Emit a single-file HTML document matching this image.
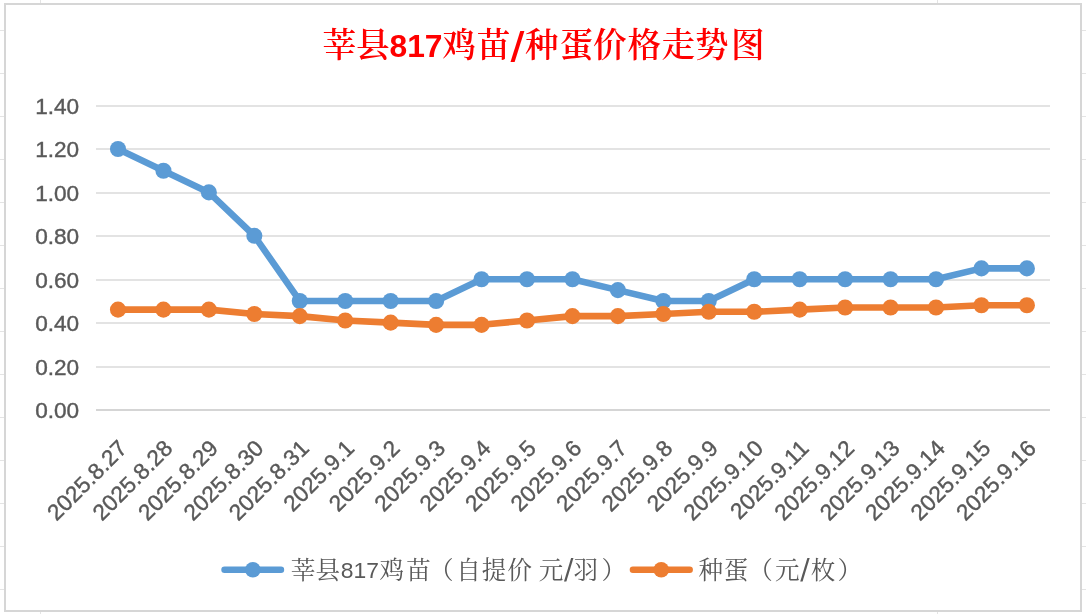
<!DOCTYPE html>
<html lang="zh-CN">
<head>
<meta charset="utf-8">
<title>莘县817鸡苗/种蛋价格走势图</title>
<style>
html,body{margin:0;padding:0;background:#fff;}
body{width:1086px;height:614px;overflow:hidden;position:relative;}
svg{position:absolute;left:0;top:0;display:block;}
.num{font-family:"Liberation Sans",sans-serif;font-size:22.6px;fill:#595959;stroke:#595959;stroke-width:0.4px;}
.ttl{font-family:"Liberation Serif","Noto Serif CJK SC",serif;font-weight:600;font-size:33.6px;fill:#ff0000;}
.ttl .d{font-family:"Liberation Sans",sans-serif;font-weight:bold;font-size:31.8px;}
.ttl .s{font-family:"DejaVu Sans",sans-serif;font-weight:bold;font-size:38px;}
.leg{font-family:"Liberation Serif","Noto Serif CJK SC",serif;font-size:24.6px;fill:#595959;}
.leg .d{font-family:"Liberation Sans",sans-serif;font-size:22.9px;}
.leg .s{font-family:"DejaVu Sans",sans-serif;font-size:28px;}
</style>
</head>
<body>
<svg width="1086" height="614" viewBox="0 0 1086 614">
<rect x="0" y="0" width="1086" height="614" fill="#ffffff"/>

<g fill="#e4e4e4" shape-rendering="crispEdges">
<rect x="0" y="30" width="1086" height="1"/>
<rect x="0" y="73" width="1086" height="1"/>
<rect x="0" y="116" width="1086" height="1"/>
<rect x="0" y="159" width="1086" height="1"/>
<rect x="0" y="202" width="1086" height="1"/>
<rect x="0" y="245" width="1086" height="1"/>
<rect x="0" y="288" width="1086" height="1"/>
<rect x="0" y="331" width="1086" height="1"/>
<rect x="0" y="374" width="1086" height="1"/>
<rect x="0" y="417" width="1086" height="1"/>
<rect x="0" y="460" width="1086" height="1"/>
<rect x="0" y="503" width="1086" height="1"/>
<rect x="0" y="546" width="1086" height="1"/>
<rect x="0" y="589" width="1086" height="1"/>
<rect x="40" y="0" width="1" height="614"/>
<rect x="937" y="0" width="1" height="614"/>
</g>
<rect x="5" y="4" width="1076" height="607" fill="#ffffff" stroke="#d6d6d6" stroke-width="2" shape-rendering="crispEdges"/>
<g fill="#e3e3e3" shape-rendering="crispEdges">
<rect x="96" y="366" width="954" height="2"/>
<rect x="96" y="322" width="954" height="2"/>
<rect x="96" y="279" width="954" height="2"/>
<rect x="96" y="235" width="954" height="2"/>
<rect x="96" y="192" width="954" height="2"/>
<rect x="96" y="148" width="954" height="2"/>
<rect x="96" y="105" width="954" height="2"/>
<rect x="96" y="409" width="954" height="2" fill="#d5d5d5"/>
</g>
<g class="num" text-anchor="end">
<text x="79.2" y="418.00">0.00</text>
<text x="79.2" y="375.00">0.20</text>
<text x="79.2" y="331.00">0.40</text>
<text x="79.2" y="288.00">0.60</text>
<text x="79.2" y="244.00">0.80</text>
<text x="79.2" y="201.00">1.00</text>
<text x="79.2" y="157.00">1.20</text>
<text x="79.2" y="114.00">1.40</text>
</g>
<g class="num" text-anchor="end" style="letter-spacing:0.15px">
<text transform="translate(128.60,449.60) rotate(-45)" x="0" y="0">2025.8.27</text>
<text transform="translate(174.04,449.60) rotate(-45)" x="0" y="0">2025.8.28</text>
<text transform="translate(219.49,449.60) rotate(-45)" x="0" y="0">2025.8.29</text>
<text transform="translate(264.94,449.60) rotate(-45)" x="0" y="0">2025.8.30</text>
<text transform="translate(310.38,449.60) rotate(-45)" x="0" y="0">2025.8.31</text>
<text transform="translate(355.83,449.60) rotate(-45)" x="0" y="0">2025.9.1</text>
<text transform="translate(401.27,449.60) rotate(-45)" x="0" y="0">2025.9.2</text>
<text transform="translate(446.72,449.60) rotate(-45)" x="0" y="0">2025.9.3</text>
<text transform="translate(492.16,449.60) rotate(-45)" x="0" y="0">2025.9.4</text>
<text transform="translate(537.61,449.60) rotate(-45)" x="0" y="0">2025.9.5</text>
<text transform="translate(583.05,449.60) rotate(-45)" x="0" y="0">2025.9.6</text>
<text transform="translate(628.50,449.60) rotate(-45)" x="0" y="0">2025.9.7</text>
<text transform="translate(673.94,449.60) rotate(-45)" x="0" y="0">2025.9.8</text>
<text transform="translate(719.38,449.60) rotate(-45)" x="0" y="0">2025.9.9</text>
<text transform="translate(764.83,449.60) rotate(-45)" x="0" y="0">2025.9.10</text>
<text transform="translate(810.27,449.60) rotate(-45)" x="0" y="0">2025.9.11</text>
<text transform="translate(855.72,449.60) rotate(-45)" x="0" y="0">2025.9.12</text>
<text transform="translate(901.17,449.60) rotate(-45)" x="0" y="0">2025.9.13</text>
<text transform="translate(946.61,449.60) rotate(-45)" x="0" y="0">2025.9.14</text>
<text transform="translate(992.06,449.60) rotate(-45)" x="0" y="0">2025.9.15</text>
<text transform="translate(1037.50,449.60) rotate(-45)" x="0" y="0">2025.9.16</text>
</g>
<polyline points="118.00,148.98 163.44,170.69 208.89,192.40 254.34,235.82 299.78,300.95 345.23,300.95 390.67,300.95 436.12,300.95 481.56,279.24 527.00,279.24 572.45,279.24 617.89,290.10 663.34,300.95 708.78,300.95 754.23,279.24 799.67,279.24 845.12,279.24 890.57,279.24 936.01,279.24 981.46,268.38 1026.90,268.38" fill="none" stroke="#5b9bd5" stroke-width="6.6" stroke-linejoin="round" stroke-linecap="round"/>
<g fill="#5b9bd5">
<circle cx="118.00" cy="148.98" r="8.05"/>
<circle cx="163.44" cy="170.69" r="8.05"/>
<circle cx="208.89" cy="192.40" r="8.05"/>
<circle cx="254.34" cy="235.82" r="8.05"/>
<circle cx="299.78" cy="300.95" r="8.05"/>
<circle cx="345.23" cy="300.95" r="8.05"/>
<circle cx="390.67" cy="300.95" r="8.05"/>
<circle cx="436.12" cy="300.95" r="8.05"/>
<circle cx="481.56" cy="279.24" r="8.05"/>
<circle cx="527.00" cy="279.24" r="8.05"/>
<circle cx="572.45" cy="279.24" r="8.05"/>
<circle cx="617.89" cy="290.10" r="8.05"/>
<circle cx="663.34" cy="300.95" r="8.05"/>
<circle cx="708.78" cy="300.95" r="8.05"/>
<circle cx="754.23" cy="279.24" r="8.05"/>
<circle cx="799.67" cy="279.24" r="8.05"/>
<circle cx="845.12" cy="279.24" r="8.05"/>
<circle cx="890.57" cy="279.24" r="8.05"/>
<circle cx="936.01" cy="279.24" r="8.05"/>
<circle cx="981.46" cy="268.38" r="8.05"/>
<circle cx="1026.90" cy="268.38" r="8.05"/>
</g>
<polyline points="118.00,309.63 163.44,309.63 208.89,309.63 254.34,313.98 299.78,316.15 345.23,320.49 390.67,322.66 436.12,324.83 481.56,324.83 527.00,320.49 572.45,316.15 617.89,316.15 663.34,313.98 708.78,311.81 754.23,311.81 799.67,309.63 845.12,307.46 890.57,307.46 936.01,307.46 981.46,305.29 1026.90,305.29" fill="none" stroke="#ed7d31" stroke-width="6.6" stroke-linejoin="round" stroke-linecap="round"/>
<g fill="#ed7d31">
<circle cx="118.00" cy="309.63" r="8.05"/>
<circle cx="163.44" cy="309.63" r="8.05"/>
<circle cx="208.89" cy="309.63" r="8.05"/>
<circle cx="254.34" cy="313.98" r="8.05"/>
<circle cx="299.78" cy="316.15" r="8.05"/>
<circle cx="345.23" cy="320.49" r="8.05"/>
<circle cx="390.67" cy="322.66" r="8.05"/>
<circle cx="436.12" cy="324.83" r="8.05"/>
<circle cx="481.56" cy="324.83" r="8.05"/>
<circle cx="527.00" cy="320.49" r="8.05"/>
<circle cx="572.45" cy="316.15" r="8.05"/>
<circle cx="617.89" cy="316.15" r="8.05"/>
<circle cx="663.34" cy="313.98" r="8.05"/>
<circle cx="708.78" cy="311.81" r="8.05"/>
<circle cx="754.23" cy="311.81" r="8.05"/>
<circle cx="799.67" cy="309.63" r="8.05"/>
<circle cx="845.12" cy="307.46" r="8.05"/>
<circle cx="890.57" cy="307.46" r="8.05"/>
<circle cx="936.01" cy="307.46" r="8.05"/>
<circle cx="981.46" cy="305.29" r="8.05"/>
<circle cx="1026.90" cy="305.29" r="8.05"/>
</g>
<text class="ttl" y="56.70"><tspan x="322.48 356.05" y="56.70">莘县</tspan><tspan class="d" x="389.48" y="56.80">817</tspan><tspan x="442.20 476.75" y="56.70">鸡苗</tspan><tspan class="s" x="510.38" y="58.20">/</tspan><tspan x="524.92 559.72 593.05 627.42 661.38 695.12 730.92" y="56.70">种蛋价格走势图</tspan></text>
<line x1="224.5" y1="569.75" x2="281" y2="569.75" stroke="#5b9bd5" stroke-width="6.4" stroke-linecap="round"/><circle cx="252.85" cy="569.7" r="7.8" fill="#5b9bd5"/>
<text class="leg" y="578.50"><tspan x="290.82 315.45" y="578.50">莘县</tspan><tspan class="d" x="340.80" y="577.90">817</tspan><tspan x="379.48 406.20 429.05 456.25 481.73 507.35 532.35 538.73" y="578.50">鸡苗（自提价 元</tspan><tspan class="s" x="564.00" y="579.10">/</tspan><tspan x="573.60 601.48" y="578.50">羽）</tspan></text>
<line x1="632.9" y1="569.75" x2="689.7" y2="569.75" stroke="#ed7d31" stroke-width="6.4" stroke-linecap="round"/><circle cx="661.25" cy="569.7" r="7.8" fill="#ed7d31"/>
<text class="leg" y="578.50"><tspan x="698.40 723.77 748.15 774.92" y="578.50">种蛋（元</tspan><tspan class="s" x="800.25" y="579.10">/</tspan><tspan x="810.85 837.58" y="578.50">枚）</tspan></text>
</svg>
</body>
</html>
